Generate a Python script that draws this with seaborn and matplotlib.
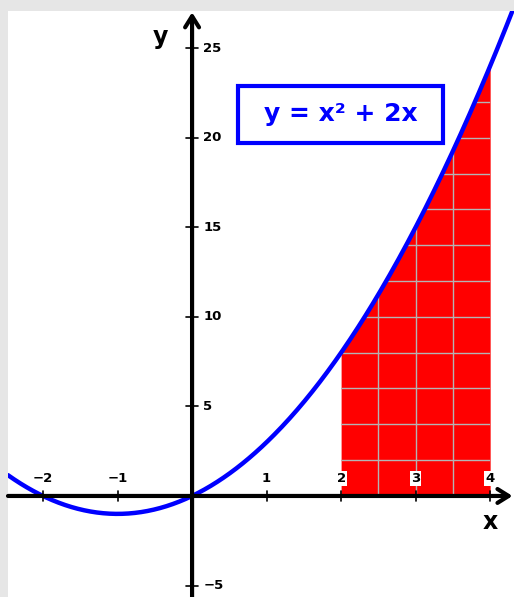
import numpy as np
import pandas as pd
import seaborn as sns
import matplotlib.pyplot as plt
from matplotlib.patches import Rectangle

sns.set_style("white")
plt.rcParams['font.family'] = ['DejaVu Sans']
plt.rcParams['text.color'] = 'black'

# chart content
coeffs = [1, 2, 0]              # y = x^2 + 2x
area_from, area_to = 2, 4
x_ticks = [-2, -1, 1, 2, 3, 4]
y_ticks = [-5, 5, 10, 15, 20, 25]
grid_x = [2.5, 3, 3.5]
grid_y = [2, 4, 6, 8, 10, 12, 14, 16, 18, 20, 22]
equation = "y = x² + 2x"

xmin, xmax = -2.47, 4.32
ymin, ymax = -5.64, 27.1

xs = np.linspace(xmin, xmax, 400)
curve = pd.DataFrame({"x": xs, "y": np.polyval(coeffs, xs)})
xa = np.linspace(area_from, area_to, 200)
ya = np.polyval(coeffs, xa)

fig = plt.figure(figsize=(5.14, 5.97), dpi=100, facecolor='#e6e6e6')
ax = fig.add_axes([8 / 514, 0, 506 / 514, 586.5 / 597])
ax.set_facecolor('white')
ax.set_xlim(xmin, xmax)
ax.set_ylim(ymin, ymax)
for s in ax.spines.values():
    s.set_visible(False)
ax.set_xticks([])
ax.set_yticks([])

# shaded area with its grid
poly = ax.fill_between(xa, 0, ya, color='#ff0000', lw=0, zorder=1)
for gx in grid_x:
    ln, = ax.plot([gx, gx], [0, ymax], color='#b4b4b4', lw=1, zorder=2)
    ln.set_clip_path(poly.get_paths()[0], ax.transData)
for gy in grid_y:
    ln, = ax.plot([area_from, area_to], [gy, gy], color='#b4b4b4', lw=1, zorder=2)
    ln.set_clip_path(poly.get_paths()[0], ax.transData)

# axes with arrows
arrow = dict(arrowstyle='->,head_length=0.8,head_width=0.5', lw=3, color='black',
             shrinkA=0, shrinkB=0)
ax.annotate('', xy=(4.30, 0), xytext=(xmin, 0), arrowprops=arrow, zorder=4)
ax.annotate('', xy=(0, 27.0), xytext=(0, ymin), arrowprops=arrow, zorder=4)

for t in x_ticks:
    ax.plot([t, t], [-0.3, 0.3], color='black', lw=1.2, zorder=4)
    ax.text(t, 0.6, f"{t}".replace('-', '−'), ha='center', va='bottom',
            fontsize=9.5, fontweight='bold', color='black', zorder=5,
            bbox=dict(facecolor='white', edgecolor='none', pad=0.8))
for t in y_ticks:
    ax.plot([-0.08, 0.08], [t, t], color='black', lw=1.2, zorder=4)
    ax.text(0.15, t, f"{t}".replace('-', '−'), ha='left', va='center',
            fontsize=9.5, fontweight='bold', color='black', zorder=5)

ax.text(-0.43, 25.6, 'y', ha='center', va='center', fontsize=17,
        fontweight='bold', color='black')
ax.text(4.0, -1.45, 'x', ha='center', va='center', fontsize=17,
        fontweight='bold', color='black')

# the curve
sns.lineplot(data=curve, x="x", y="y", ax=ax, color='#0000ff', lw=3.2, zorder=3,
             estimator=None, sort=False, legend=False)
ax.set_xlabel('')
ax.set_ylabel('')

# equation box
ax.add_patch(Rectangle((0.617, 19.72), 3.369 - 0.617, 22.9 - 19.72,
                       facecolor='white', edgecolor='#0000ff', lw=3, zorder=6))
ax.text(1.99, 21.3, equation, ha='center', va='center', fontsize=18,
        fontweight='bold', color='#0000ff', zorder=7)

fig.savefig('out.png', dpi=100, facecolor=fig.get_facecolor())
